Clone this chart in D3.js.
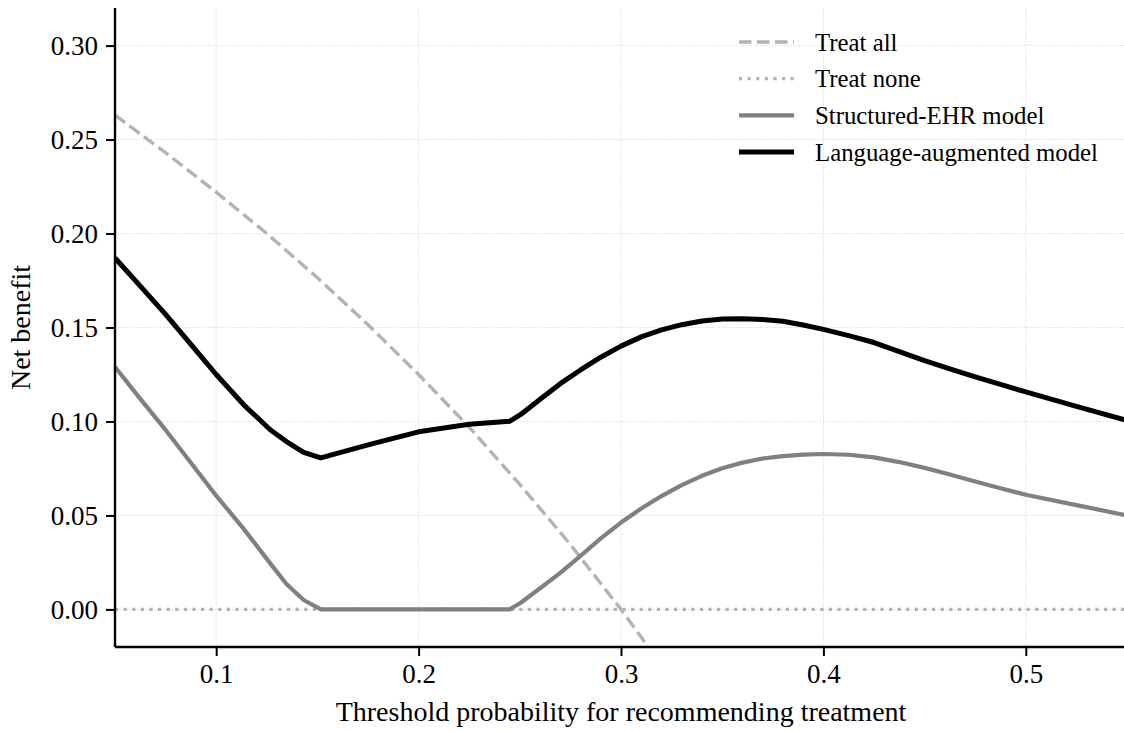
<!DOCTYPE html>
<html>
<head>
<meta charset="utf-8">
<script src="https://cdn.jsdelivr.net/npm/d3@7"></script>
<style>
  body { margin: 0; background: #fff; }
  svg { display: block; font-family: 'Liberation Serif', 'Times New Roman', serif; }
</style>
</head>
<body>
<svg id="chart" width="1124" height="731"></svg>
<script>
// values
var treatAllX = [0.05, 0.075, 0.1, 0.125, 0.15, 0.175, 0.2, 0.225, 0.25, 0.275, 0.3, 0.325];
var treatAllY = [0.263, 0.243, 0.222, 0.2, 0.1765, 0.1515, 0.125, 0.097, 0.0665, 0.0345, 0.0, -0.037];

var treatNoneX = [0.05, 0.55];
var treatNoneY = [0, 0];

var modelX = [0.05, 0.0625, 0.075, 0.0875, 0.1, 0.1135, 0.1267, 0.1347, 0.1432, 0.1517,
  0.175, 0.2, 0.225, 0.2449, 0.2503, 0.2602, 0.27, 0.28, 0.29, 0.3,
  0.31, 0.32, 0.33, 0.34, 0.35, 0.36, 0.37, 0.38, 0.39, 0.4,
  0.4125, 0.425, 0.4375, 0.45, 0.4625, 0.475, 0.4875, 0.5, 0.525, 0.55];
var structuredY = [0.129, 0.112, 0.0955, 0.078, 0.0605, 0.043, 0.0245, 0.0135, 0.005, 0,
  0, 0, 0, 0, 0.0034, 0.0114, 0.0194, 0.0285, 0.0378, 0.0462,
  0.0537, 0.0603, 0.0661, 0.0711, 0.0751, 0.0781, 0.0803, 0.0816, 0.0824, 0.0827,
  0.0823, 0.0809, 0.0784, 0.0753, 0.0718, 0.0681, 0.0645, 0.061, 0.0555, 0.05];
var languageY = [0.187, 0.172, 0.157, 0.141, 0.125, 0.109, 0.0956, 0.0893, 0.0836, 0.0806,
  0.0875, 0.0945, 0.0985, 0.1001, 0.1036, 0.112, 0.1201, 0.1274, 0.1342, 0.1401,
  0.145, 0.1487, 0.1515, 0.1535, 0.1545, 0.1547, 0.1543, 0.1533, 0.1513, 0.149,
  0.1457, 0.142, 0.1372, 0.1324, 0.128, 0.1237, 0.1197, 0.1157, 0.108, 0.1005];

var xTicks = [0.1, 0.2, 0.3, 0.4, 0.5];
var yTicks = [0, 0.05, 0.1, 0.15, 0.2, 0.25, 0.3];

var seriesNames = ['Treat all', 'Treat none', 'Structured-EHR model', 'Language-augmented model'];

var styles = [
  {color: '#b3b3b3', width: 3.4, dash: '12.5,5.5'},
  {color: '#b3b3b3', width: 3.2, dash: '3.2,5.4'},
  {color: '#808080', width: 4.2, dash: null},
  {color: '#000000', width: 5, dash: null}
];

var svg = d3.select('#chart');
var plotLeft = 115, plotRight = 1127, plotTop = 8, plotBottom = 647;

var x = d3.scaleLinear().domain([0.05, 0.55]).range([plotLeft, plotRight]);
var y = d3.scaleLinear().domain([-0.02, 0.32]).range([plotBottom, plotTop]);

svg.append('defs').append('clipPath').attr('id', 'plotClip')
    .append('rect')
    .attr('x', plotLeft).attr('y', plotTop)
    .attr('width', plotRight - plotLeft).attr('height', plotBottom - plotTop);

// grid
var grid = svg.append('g').attr('stroke', '#d9d9d9').attr('stroke-width', 0.9)
    .attr('stroke-dasharray', '1.5,1.5');
grid.selectAll('.vgrid').data(xTicks).enter().append('line')
    .attr('x1', function(d) { return x(d); })
    .attr('x2', function(d) { return x(d); })
    .attr('y1', plotTop).attr('y2', plotBottom);
grid.selectAll('.hgrid').data(yTicks).enter().append('line')
    .attr('y1', function(d) { return y(d); })
    .attr('y2', function(d) { return y(d); })
    .attr('x1', plotLeft).attr('x2', plotRight);

function toPoints(xs, ys) {
  var pts = [];
  for (var i = 0; i < xs.length; i++)
    pts.push([xs[i], ys[i]]);
  return pts;
}

var seriesData = [
  toPoints(treatAllX, treatAllY),
  toPoints(treatNoneX, treatNoneY),
  toPoints(modelX, structuredY),
  toPoints(modelX, languageY)
];

var line = d3.line()
    .x(function(d) { return x(d[0]); })
    .y(function(d) { return y(d[1]); });

var lines = svg.append('g').attr('clip-path', 'url(#plotClip)');
seriesData.forEach(function(pts, i) {
  lines.append('path')
      .attr('d', line(pts))
      .attr('fill', 'none')
      .attr('stroke', styles[i].color)
      .attr('stroke-width', styles[i].width)
      .attr('stroke-dasharray', styles[i].dash)
      .attr('stroke-linejoin', 'round');
});

// axes
var xAxis = svg.append('g')
    .attr('transform', 'translate(0,' + plotBottom + ')')
    .call(d3.axisBottom(x).tickValues(xTicks).tickFormat(d3.format('.1f'))
        .tickSize(9).tickPadding(8));
var yAxis = svg.append('g')
    .attr('transform', 'translate(' + plotLeft + ',0)')
    .call(d3.axisLeft(y).tickValues(yTicks).tickFormat(d3.format('.2f'))
        .tickSize(9).tickPadding(8));

[xAxis, yAxis].forEach(function(ax) {
  ax.select('.domain').attr('stroke', '#000').attr('stroke-width', 2.4);
  ax.selectAll('.tick line').attr('stroke', '#000').attr('stroke-width', 2);
  ax.selectAll('.tick text')
      .attr('fill', '#000')
      .style('font-size', '27px')
      .style('font-family', "'Liberation Serif', serif");
});
xAxis.select('.domain').attr('d', 'M' + plotLeft + ',0H' + plotRight);
yAxis.select('.domain').attr('d', 'M0,' + plotTop + 'V' + plotBottom);

svg.append('text')
    .attr('x', (plotLeft + plotRight) / 2)
    .attr('y', 721)
    .attr('text-anchor', 'middle')
    .style('font-size', '28px')
    .text('Threshold probability for recommending treatment');

svg.append('text')
    .attr('transform', 'translate(30,' + (plotTop + plotBottom) / 2 + ') rotate(-90)')
    .attr('text-anchor', 'middle')
    .style('font-size', '28px')
    .text('Net benefit');

// legend
var legend = svg.append('g').attr('transform', 'translate(739,42)');
seriesNames.forEach(function(name, i) {
  var row = legend.append('g').attr('transform', 'translate(0,' + i * 36.7 + ')');
  row.append('line')
      .attr('x1', 0).attr('x2', 55).attr('y1', 0).attr('y2', 0)
      .attr('stroke', styles[i].color)
      .attr('stroke-width', styles[i].width)
      .attr('stroke-dasharray', styles[i].dash);
  row.append('text')
      .attr('x', 76).attr('y', 8.5)
      .style('font-size', '24.8px')
      .text(name);
});
</script>
</body>
</html>
